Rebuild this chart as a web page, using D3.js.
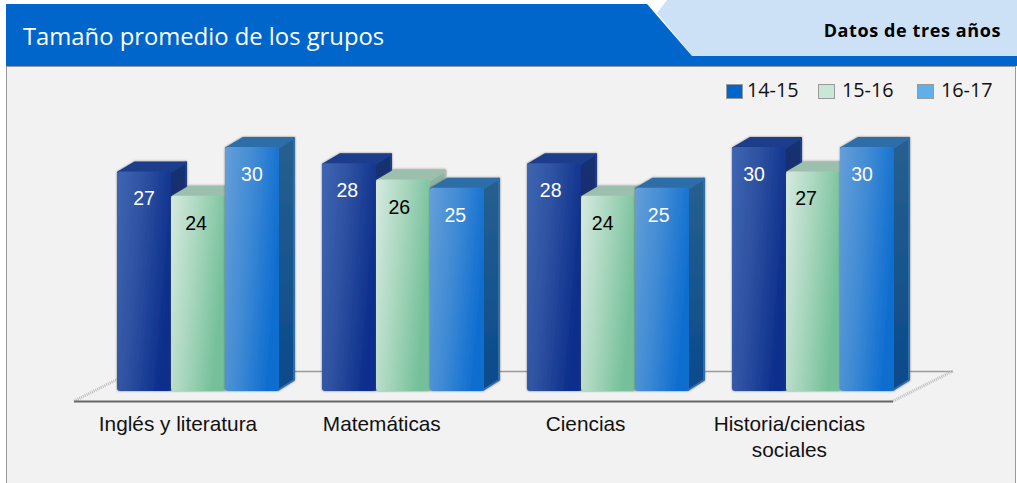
<!DOCTYPE html>
<html>
<head>
<meta charset="utf-8">
<script src="https://d3js.org/d3.v7.min.js"></script>
<style>
html, body { margin: 0; padding: 0; background: #fff; overflow: hidden; }
svg { display: block; }
.title { fill: #fff; font-family: "Open Sans"; font-size: 23.8px; }
.subtitle { fill: #000; font-family: "Open Sans"; font-size: 18px; font-weight: 700; letter-spacing: 0.6px; }
.legend-label { fill: #111; font-family: "Open Sans"; font-size: 19.8px; }
.value { font-family: "Liberation Sans"; font-size: 19.5px; text-anchor: middle; }
.axis text { fill: #111; font-family: "Liberation Sans"; font-size: 20.8px; }
</style>
</head>
<body>
<div id="chart"></div>
<script>
// data
var categories = ["Inglés y literatura", "Matemáticas", "Ciencias", "Historia/ciencias sociales"];
var years = ["14-15", "15-16", "16-17"];
var values1415 = [27, 28, 28, 30];
var values1516 = [24, 26, 24, 27];
var values1617 = [30, 25, 25, 30];

var width = 1017, height = 483;
var baseY = 391, topY = 147;
var depthX = 16, depthY = -10;

var series = [
  { key: "14-15", values: values1415, swatch: "#0066cc", front: "frontDark", top: "#1b3d8b", side: "sideDark", text: "#fff", textDx: 0 },
  { key: "15-16", values: values1516, swatch: "#c9e6d8", front: "frontGreen", top: "#9dbfae", side: "sideGreen", text: "#000", textDx: -2 },
  { key: "16-17", values: values1617, swatch: "#5fb0e8", front: "frontBlue", top: "#2f6ea8", side: "sideBlue", text: "#fff", textDx: 0 }
];

var svg = d3.select("#chart").append("svg")
    .attr("width", width)
    .attr("height", height);

var defs = svg.append("defs");

function addGradient(id, stops, x2, y2) {
  var g = defs.append("linearGradient")
      .attr("id", id)
      .attr("x1", 0).attr("y1", 0)
      .attr("x2", x2).attr("y2", y2);
  stops.forEach(function(s, i) {
    g.append("stop")
      .attr("offset", i / (stops.length - 1))
      .attr("stop-color", s);
  });
}
addGradient("frontDark", ["#3f66b2", "#2c4f9f", "#0c2f8c"], 1, 0.35);
addGradient("frontGreen", ["#d6eae0", "#a8d6bd", "#74c09a"], 1, 0.35);
addGradient("frontBlue", ["#659fd8", "#3f8ad4", "#0f6ed0"], 1, 0.35);
addGradient("sideDark", ["#14306f", "#0f2b78"], 0, 1);
addGradient("sideGreen", ["#8fb5a2", "#6f9f88"], 0, 1);
addGradient("sideBlue", ["#27608f", "#0a4a8c"], 0, 1);

var soft = defs.append("filter").attr("id", "soft")
    .attr("x", "-10%").attr("y", "-10%").attr("width", "120%").attr("height", "120%");
soft.append("feDropShadow")
    .attr("dx", 0).attr("dy", 0)
    .attr("stdDeviation", 1)
    .attr("flood-color", "#444")
    .attr("flood-opacity", 0.7);

//-----------------------------HEADER-----------------------------//
svg.append("polygon")
    .attr("points", "657,13 667,0 1017,0 1017,56 692,56")
    .attr("fill", "#cce1f5");
svg.append("polygon")
    .attr("points", "6,4 647,4 692,56 1017,56 1017,66 6,66")
    .attr("fill", "#0066cc");
svg.append("rect")
    .attr("x", 6.5).attr("y", 66.5)
    .attr("width", 1009).attr("height", 420)
    .attr("fill", "#f2f2f2")
    .attr("stroke", "#999")
    .attr("stroke-width", 1);

svg.append("text").attr("class", "title")
    .attr("x", 23).attr("y", 45)
    .text("Tamaño promedio de los grupos");
svg.append("text").attr("class", "subtitle")
    .attr("x", 1001).attr("y", 37)
    .attr("text-anchor", "end")
    .text("Datos de tres años");

//-----------------------------LEGEND-----------------------------//
var legendX = d3.scaleOrdinal().domain(years).range([726, 818, 917]);
var legendTextX = d3.scaleOrdinal().domain(years).range([21, 24, 24]);
var legend = svg.selectAll(".legend")
    .data(series)
    .enter().append("g")
    .attr("class", "legend")
    .attr("transform", function(d) { return "translate(" + legendX(d.key) + ",84)"; });
legend.append("rect")
    .attr("x", 0.5).attr("y", 0.5)
    .attr("width", 16).attr("height", 14)
    .attr("fill", function(d) { return d.swatch; })
    .attr("stroke", "#999");
legend.append("text")
    .attr("class", "legend-label")
    .attr("x", function(d) { return legendTextX(d.key); })
    .attr("y", 13)
    .text(function(d) { return d.key; });

//-----------------------------SCALES-----------------------------//
var x0 = d3.scaleBand()
    .domain(categories)
    .range([117, 894])
    .paddingInner(0.21)
    .paddingOuter(0);
var x1 = d3.scaleBand()
    .domain(years)
    .range([0, x0.bandwidth()]);
var y = d3.scaleLinear()
    .domain([0, 30])
    .range([baseY, topY]);

//-----------------------------FLOOR------------------------------//
svg.append("line")
    .attr("x1", 134).attr("y1", 371.5).attr("x2", 953).attr("y2", 371.5)
    .attr("stroke", "#9a9a9a").attr("stroke-width", 1.5);
[[74, 401, 134, 371], [893, 401, 953, 371]].forEach(function(e) {
  svg.append("line")
      .attr("x1", e[0]).attr("y1", e[1]).attr("x2", e[2]).attr("y2", e[3])
      .attr("stroke", "#bdbdbd").attr("stroke-width", 3)
      .attr("stroke-dasharray", "1 1");
});
svg.append("line")
    .attr("x1", 74).attr("y1", 401.5).attr("x2", 893).attr("y2", 401.5)
    .attr("stroke", "#666").attr("stroke-width", 2);

//-----------------------------BARS-------------------------------//
var groups = svg.selectAll(".group")
    .data(categories)
    .enter().append("g")
    .attr("class", "group")
    .attr("transform", function(d) { return "translate(" + x0(d) + ",0)"; });

// labels sit a little left of the bar centre, more so further right
var labelShift = d3.scaleLinear().domain([0, 3]).range([0, -5]);

groups.each(function(cat, ci) {
  var g = d3.select(this);
  series.forEach(function(s) {
    var v = s.values[ci];
    var bx = x1(s.key), bw = x1.bandwidth(), by = y(v);
    var bar = g.append("g").attr("filter", "url(#soft)");
    // side face
    bar.append("path")
        .attr("d", d3.line()([[bx + bw - 1, by + 1], [bx + bw + depthX - 1, by + depthY + 1], [bx + bw + depthX - 1, baseY + depthY - 1], [bx + bw - 1, baseY - 1]]) + "Z")
        .attr("fill", "url(#" + s.side + ")")
        .attr("stroke", s.top)
        .attr("stroke-width", 2)
        .attr("stroke-linejoin", "round");
    // top face
    bar.append("path")
        .attr("d", d3.line()([[bx + 1, by + 1], [bx + depthX + 2, by + depthY + 1], [bx + bw + depthX - 1, by + depthY + 1], [bx + bw - 1, by + 1]]) + "Z")
        .attr("fill", s.top)
        .attr("stroke", s.top)
        .attr("stroke-width", 2)
        .attr("stroke-linejoin", "round");
    // front face
    bar.append("rect")
        .attr("x", bx).attr("y", by)
        .attr("width", bw).attr("height", baseY - by)
        .attr("rx", 3)
        .attr("fill", "url(#" + s.front + ")");
  });
  series.forEach(function(s) {
    g.append("text")
        .attr("class", "value")
        .attr("x", x1(s.key) + x1.bandwidth() / 2 + s.textDx + labelShift(ci))
        .attr("y", y(s.values[ci]) + 34)
        .attr("fill", s.text)
        .text(s.values[ci]);
  });
});

//-----------------------------AXIS-------------------------------//
var xAxis = d3.axisBottom(x0).tickSize(0).tickPadding(0);
var axisG = svg.append("g")
    .attr("class", "axis")
    .attr("transform", "translate(0,416)")
    .call(xAxis)
    .call(function(a) { a.select(".domain").remove(); });

axisG.selectAll(".tick text")
    .call(wrap, 170)
    .attr("transform", function(d, i) { return "translate(" + (-20 - i * 1.2) + ",0)"; });

function wrap(text, maxWidth) {
  text.each(function() {
    var t = d3.select(this);
    var words = t.text().split(" ");
    var line = [];
    var tspan = t.text(null).append("tspan").attr("x", 0).attr("dy", "0.71em");
    words.forEach(function(w) {
      line.push(w);
      tspan.text(line.join(" "));
      if (tspan.node().getComputedTextLength() > maxWidth && line.length > 1) {
        line.pop();
        tspan.text(line.join(" "));
        line = [w];
        tspan = t.append("tspan").attr("x", 0).attr("dy", "1.25em").text(w);
      }
    });
  });
}
</script>
</body>
</html>
